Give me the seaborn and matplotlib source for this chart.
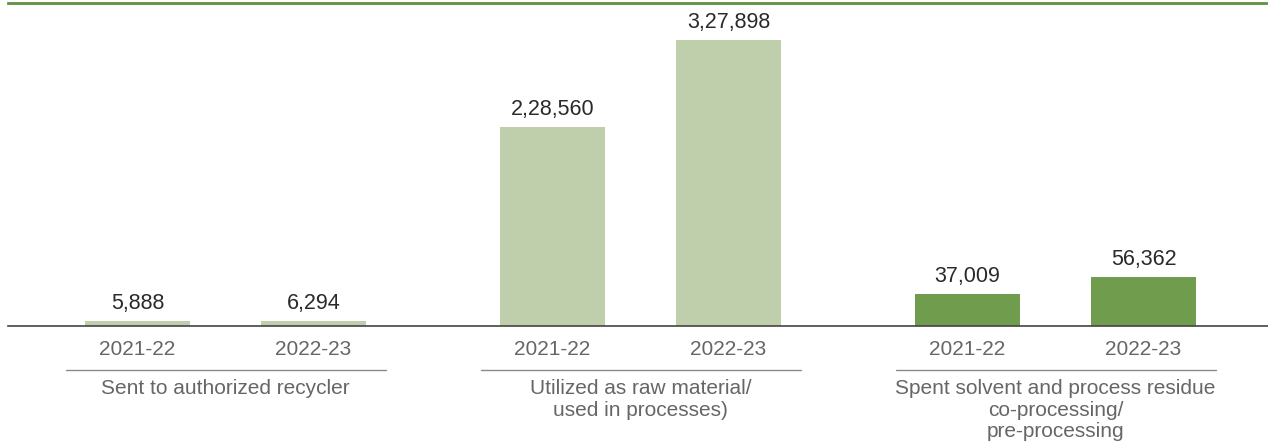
import matplotlib
matplotlib.use("Agg")
import matplotlib.pyplot as plt
import matplotlib.transforms as mtransforms
import seaborn as sns
import pandas as pd

# ---- data ----
groups = ["Sent to authorized recycler",
          "Utilized as raw material/\nused in processes)",
          "Spent solvent and process residue\nco-processing/\npre-processing"]
years = ["2021-22", "2022-23"]
values_recycler = [5888, 6294]
values_raw_material = [228560, 327898]
values_coprocessing = [37009, 56362]
bar_kind = ["light", "light", "dark"]

palette = {"light": "#bfcfab", "dark": "#6f9c4d"}

def indian_format(n):
    s = str(int(n))
    if len(s) <= 3:
        return s
    last3 = s[-3:]
    rest = s[:-3]
    parts = []
    while len(rest) > 2:
        parts.insert(0, rest[-2:])
        rest = rest[:-2]
    if rest:
        parts.insert(0, rest)
    return ",".join(parts) + "," + last3

group_gap = 2.358
rows = []
all_vals = [values_recycler, values_raw_material, values_coprocessing]
for g, vals in enumerate(all_vals):
    for j, v in enumerate(vals):
        rows.append({"pos": round(g * group_gap + j, 3), "value": v,
                     "year": years[j], "group": g, "kind": bar_kind[g]})
df = pd.DataFrame(rows)

sns.set_theme(style="white")
plt.rcParams["font.family"] = ["Liberation Sans", "DejaVu Sans"]

fig = plt.figure(figsize=(12.68, 4.46), dpi=100)
ax = fig.add_axes([8 / 1268, 120 / 446, 1260 / 1268, 323 / 446])

sns.barplot(data=df, x="pos", y="value", hue="kind", palette=palette,
            native_scale=True, dodge=False, width=0.597, legend=False,
            saturation=1, ax=ax, errorbar=None, linewidth=0)

ax.set_xlim(-0.736, 6.423)
ax.set_ylim(0, 370300)

for _, r in df.iterrows():
    ax.annotate(indian_format(r["value"]), (r["pos"], r["value"]),
                xytext=(0, 5), textcoords="offset points",
                ha="center", va="bottom", fontsize=15.5, color="#2a2a2a")

ax.set_xticks(df["pos"].tolist())
ax.set_xticklabels(df["year"].tolist(), fontsize=15, color="#666666")
ax.tick_params(axis="x", length=0, pad=10)
ax.set_yticks([])
ax.set_xlabel("")
ax.set_ylabel("")

for side in ["left", "right"]:
    ax.spines[side].set_visible(False)
ax.spines["bottom"].set_color("#444444")
ax.spines["bottom"].set_linewidth(1.2)
ax.spines["top"].set_color("#5e9140")
ax.spines["top"].set_linewidth(2)

trans = mtransforms.blended_transform_factory(ax.transData, ax.transAxes)
for g, label in enumerate(groups):
    c = g * group_gap + 0.5
    ax.plot([c - 0.909, c + 0.909], [-0.136, -0.136], transform=trans,
            color="#8a8a8a", lw=1, clip_on=False)
    ax.text(c, -0.164, label, transform=trans, ha="center", va="top",
            fontsize=15, color="#666666", linespacing=1.18)

fig.savefig("out.png", dpi=100)
